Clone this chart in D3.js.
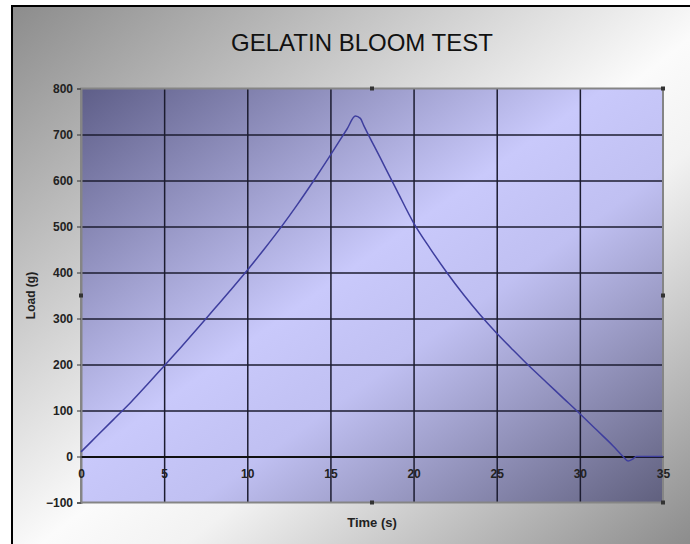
<!DOCTYPE html>
<html>
<head>
<meta charset="utf-8">
<script src="https://cdn.jsdelivr.net/npm/d3@7"></script>
<style>
  body { margin: 0; background: #fff; }
  svg { display: block; font-family: "Liberation Sans", Arial, sans-serif; }
  .tick text { font-weight: bold; fill: #222; }
</style>
</head>
<body>
<div id="chart"></div>
<script>
// time (s) and load (g)
const timeS = [0, 1, 2, 3, 4, 5, 6, 7, 8, 9, 10, 11, 12, 13, 14, 15, 16, 16.5, 16.8, 17,
  18, 19, 20, 21, 22, 23, 24, 25, 26, 27, 28, 29, 30, 31, 32, 32.6, 32.9, 33.2, 33.4, 34, 35];
const loadG = [10, 46, 82, 118, 157, 197, 237, 278, 320, 362, 405, 450, 497, 547, 600, 655, 712, 740, 735, 720,
  649, 578, 508, 452, 400, 352, 308, 268, 231, 195, 161, 127, 93, 58, 23, 0, -10, -5, 0, 0, 0];
const xTicks = [0, 5, 10, 15, 20, 25, 30, 35];
const yTicks = [-100, 0, 100, 200, 300, 400, 500, 600, 700, 800];

const width = 690, height = 544;
const margin = {top: 88.5, right: 27, bottom: 41.5, left: 81};

const svg = d3.select("#chart").append("svg")
  .attr("width", width).attr("height", height);

const defs = svg.append("defs");
const outerGrad = defs.append("linearGradient").attr("id", "outerGrad")
  .attr("x1", 0).attr("y1", 0).attr("x2", 1).attr("y2", 1);
outerGrad.append("stop").attr("offset", 0).attr("stop-color", "#8c8c8c");
outerGrad.append("stop").attr("offset", 0.5).attr("stop-color", "#fbfbfb");
outerGrad.append("stop").attr("offset", 0.6).attr("stop-color", "#f2f2f2");
outerGrad.append("stop").attr("offset", 1).attr("stop-color", "#7e7e7e");

const plotGrad = defs.append("linearGradient").attr("id", "plotGrad")
  .attr("x1", 0).attr("y1", 0).attr("x2", 1).attr("y2", 1);
plotGrad.append("stop").attr("offset", 0).attr("stop-color", "#5e5e88");
plotGrad.append("stop").attr("offset", 0.45).attr("stop-color", "#c9c9fb");
plotGrad.append("stop").attr("offset", 0.6).attr("stop-color", "#c0c0f2");
plotGrad.append("stop").attr("offset", 1).attr("stop-color", "#60607e");

// outer chart box (runs off the right and bottom edges)
svg.append("rect")
  .attr("x", 12).attr("y", 6).attr("width", 720).attr("height", 560)
  .attr("fill", "url(#outerGrad)")
  .attr("stroke", "#000").attr("stroke-width", 2);

const x = d3.scaleLinear().domain([0, 35]).range([margin.left, width - margin.right]);
const y = d3.scaleLinear().domain([-100, 800]).range([height - margin.bottom, margin.top]);

svg.append("rect")
  .attr("x", x(0)).attr("y", y(800))
  .attr("width", x(35) - x(0)).attr("height", y(-100) - y(800))
  .attr("fill", "url(#plotGrad)");

// gridlines
svg.append("g")
  .attr("transform", `translate(0,${y(-100)})`)
  .call(d3.axisBottom(x).tickValues(xTicks.slice(1, -1)).tickSize(-(y(-100) - y(800))).tickFormat(""))
  .call(g => g.select(".domain").remove())
  .call(g => g.selectAll("line").attr("stroke", "#1c1c30").attr("stroke-width", 1.5));

svg.append("g")
  .attr("transform", `translate(${x(0)},0)`)
  .call(d3.axisLeft(y).tickValues(yTicks.filter(v => v !== -100 && v !== 800 && v !== 0))
    .tickSize(-(x(35) - x(0))).tickFormat(""))
  .call(g => g.select(".domain").remove())
  .call(g => g.selectAll("line").attr("stroke", "#1c1c30").attr("stroke-width", 1.5));

// plot frame
svg.append("rect")
  .attr("x", x(0)).attr("y", y(800))
  .attr("width", x(35) - x(0)).attr("height", y(-100) - y(800))
  .attr("fill", "none").attr("stroke", "#858585").attr("stroke-width", 2);

// y axis
svg.append("g")
  .attr("transform", `translate(${x(0)},0)`)
  .call(d3.axisLeft(y).tickValues(yTicks).tickSize(4).tickPadding(4))
  .call(g => g.select(".domain").attr("stroke", "#858585").attr("stroke-width", 2))
  .call(g => g.selectAll("line").attr("stroke", "#333"))
  .call(g => g.selectAll("text").attr("font-size", 12));

// x axis crossing at zero
svg.append("g")
  .attr("transform", `translate(0,${y(0)})`)
  .call(d3.axisBottom(x).tickValues(xTicks).tickSize(0).tickPadding(13))
  .call(g => g.select(".domain").attr("stroke", "#111").attr("stroke-width", 2.2))
  .call(g => g.selectAll("text").attr("font-size", 12));

// load curve
const pts = timeS.map((t, i) => [t, loadG[i]]);
const line = d3.line()
  .x(d => x(d[0]))
  .y(d => y(d[1]))
  .curve(d3.curveMonotoneX);

svg.append("path")
  .datum(pts)
  .attr("fill", "none")
  .attr("stroke", "#3e3e9e")
  .attr("stroke-width", 1.5)
  .attr("d", line);

// selection handles on the plot frame
const handles = [[17.5, 800], [35, 800], [35, 350], [17.5, -100], [35, -100], [0, 350]];
svg.append("g").selectAll("rect")
  .data(handles)
  .join("rect")
  .attr("x", d => x(d[0]) - 2).attr("y", d => y(d[1]) - 2)
  .attr("width", 4).attr("height", 4)
  .attr("fill", "#333");

// titles
svg.append("text")
  .attr("x", 362).attr("y", 51)
  .attr("text-anchor", "middle")
  .attr("font-size", 24)
  .attr("fill", "#111")
  .text("GELATIN BLOOM TEST");

svg.append("text")
  .attr("x", x(17.5)).attr("y", 527)
  .attr("text-anchor", "middle")
  .attr("font-size", 13).attr("font-weight", "bold").attr("fill", "#222")
  .text("Time (s)");

svg.append("text")
  .attr("transform", `translate(35,${y(350)}) rotate(-90)`)
  .attr("text-anchor", "middle")
  .attr("font-size", 12).attr("font-weight", "bold").attr("fill", "#222")
  .text("Load (g)");
</script>
</body>
</html>
